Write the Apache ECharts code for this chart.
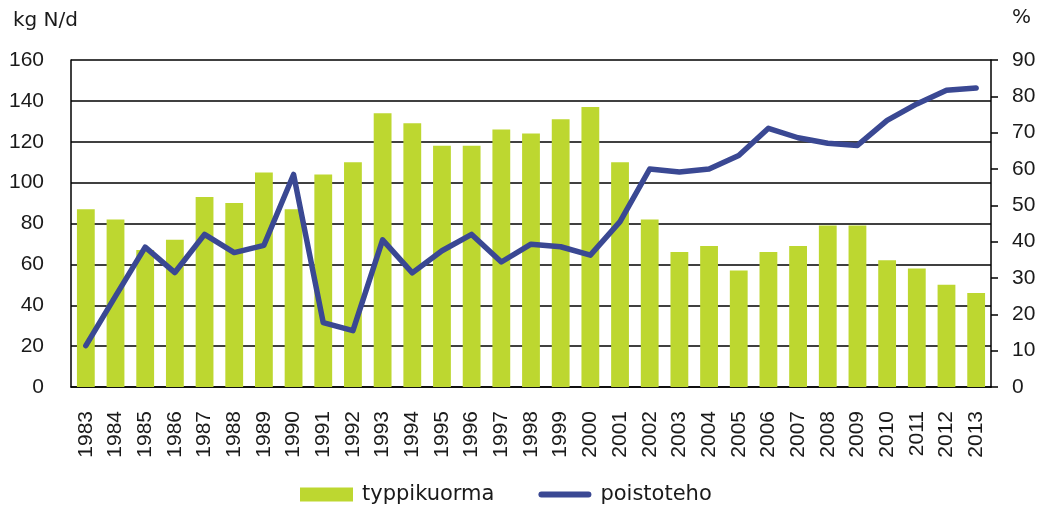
<!DOCTYPE html>
<html>
<head>
<meta charset="utf-8">
<script src="https://cdn.jsdelivr.net/npm/echarts@6/dist/echarts.min.js"></script>
<style>
  html, body { margin: 0; padding: 0; background: #fff; }
  #main { width: 1041px; height: 515px; }
</style>
</head>
<body>
<div id="main"></div>
<script>
// vuodet
let years = ['1983', '1984', '1985', '1986', '1987', '1988', '1989', '1990', '1991', '1992',
    '1993', '1994', '1995', '1996', '1997', '1998', '1999', '2000', '2001', '2002',
    '2003', '2004', '2005', '2006', '2007', '2008', '2009', '2010', '2011', '2012', '2013'];

// typpikuorma kg N/d
let typpikuorma = [87, 82, 67, 72, 93, 90, 105, 87, 104, 110,
    134, 129, 118, 118, 126, 124, 131, 137, 110, 82,
    66, 69, 57, 66, 69, 79, 79, 62, 58, 50, 46];

// poistoteho %
let poistoteho = [11.4, 25, 38.5, 31.5, 42, 37, 39, 58.5, 17.7, 15.5,
    40.5, 31.4, 37.5, 42, 34.4, 39.3, 38.6, 36.3, 45.5, 60,
    59.2, 60, 63.7, 71.2, 68.6, 67.1, 66.5, 73.4, 77.9, 81.7, 82.3];

let myChart = echarts.init(document.getElementById('main'));

let numFont = '"Liberation Sans", Arial, sans-serif';
let textFont = '"DejaVu Sans", sans-serif';

let option = {
    animation: false,
    textStyle: { fontFamily: numFont },
    grid: { left: 71, right: 50, top: 60, bottom: 128 },
    legend: {
        bottom: 5,
        left: 295,
        itemGap: 44,
        itemWidth: 53,
        itemHeight: 14,
        textStyle: { fontSize: 21, color: '#1a1a1a', fontFamily: textFont, padding: [0, 0, 0, 4] },
        data: [
            { name: 'typpikuorma', icon: 'rect' },
            { name: 'poistoteho', icon: 'path://M3,0 L50,0 A3,3 0 0 1 50,6 L3,6 A3,3 0 0 1 3,0 Z' }
        ]
    },
    xAxis: {
        type: 'category',
        data: years,
        axisLine: { lineStyle: { color: '#000', width: 1.5 } },
        axisTick: { show: false },
        axisLabel: {
            rotate: 90,
            interval: 0,
            fontSize: 21,
            color: '#1a1a1a',
            margin: 24
        }
    },
    yAxis: [
        {
            type: 'value',
            name: 'kg N/d',
            nameLocation: 'end',
            nameGap: 39,
            nameTextStyle: {
                fontSize: 20, color: '#1a1a1a', fontFamily: textFont,
                align: 'right', verticalAlign: 'middle', padding: [0, -7, 0, 0]
            },
            min: 0,
            max: 160,
            interval: 20,
            axisLine: { show: true, lineStyle: { color: '#000', width: 1.5 } },
            axisTick: { show: false },
            axisLabel: { fontSize: 21, color: '#1a1a1a', margin: 27 },
            splitLine: { lineStyle: { color: '#000', width: 1.5 } }
        },
        {
            type: 'value',
            name: '%',
            nameLocation: 'end',
            nameGap: 42,
            nameTextStyle: {
                fontSize: 20, color: '#1a1a1a', fontFamily: textFont,
                align: 'left', verticalAlign: 'middle', padding: [0, 0, 0, 21]
            },
            min: 0,
            max: 90,
            interval: 10,
            position: 'right',
            axisLine: { show: true, lineStyle: { color: '#000', width: 1.5 } },
            axisTick: { show: true, length: 7, lineStyle: { color: '#000', width: 1.5 } },
            axisLabel: { fontSize: 21, color: '#1a1a1a', margin: 21 },
            splitLine: { show: false }
        }
    ],
    series: [
        {
            name: 'typpikuorma',
            type: 'bar',
            data: typpikuorma,
            barWidth: '60%',
            itemStyle: { color: '#bdd730' }
        },
        {
            name: 'poistoteho',
            type: 'line',
            yAxisIndex: 1,
            data: poistoteho,
            symbol: 'none',
            lineStyle: { color: '#3a4893', width: 5.5, cap: 'round', join: 'round' },
            itemStyle: { color: '#3a4893' }
        }
    ]
};

myChart.setOption(option);
</script>
</body>
</html>
